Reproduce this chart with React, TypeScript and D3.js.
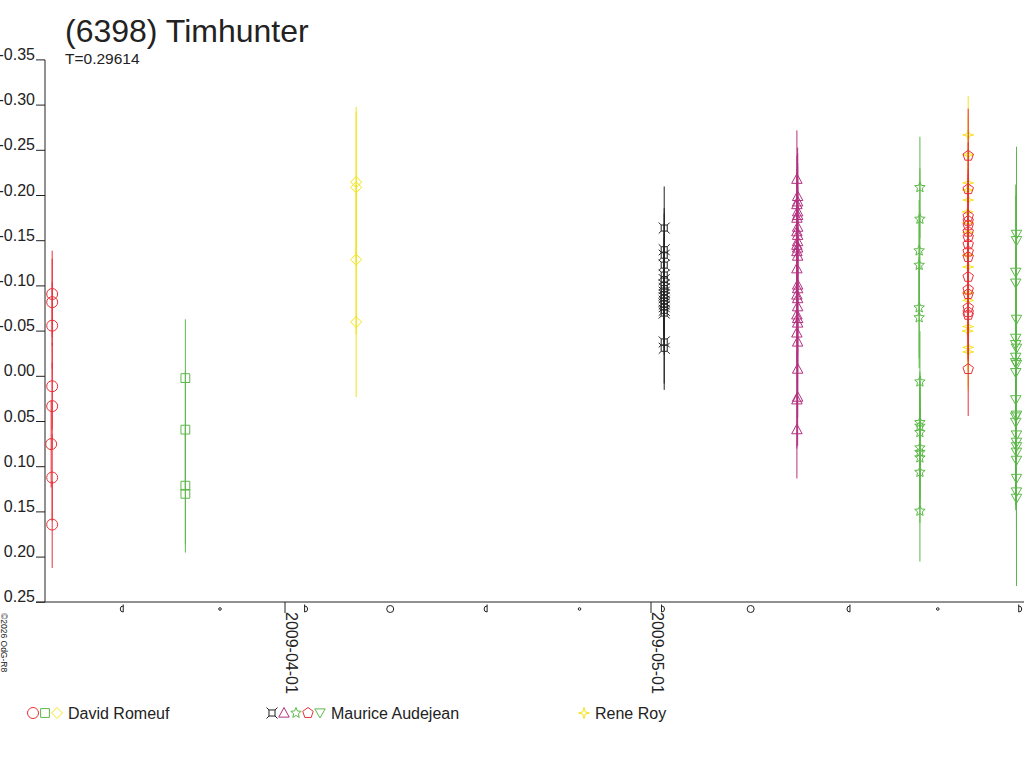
import * as d3 from 'd3';

const title = '(6398) Timhunter';
const period = 'T=0.29614';
const credit = '©2026 OdG-R8';

const yTicks = [-0.35, -0.3, -0.25, -0.2, -0.15, -0.1, -0.05, 0, 0.05, 0.1, 0.15, 0.2, 0.25];
const dateTicks = ['2009-04-01', '2009-05-01'];

// moon phases (UT): lq = last quarter, nm = new, fq = first quarter, fm = full
const moonPhases: [string, string][] = [
  ['2009-03-18T17:47Z', 'lq'], ['2009-03-26T16:06Z', 'nm'], ['2009-04-02T14:34Z', 'fq'],
  ['2009-04-09T14:56Z', 'fm'], ['2009-04-17T13:36Z', 'lq'], ['2009-04-25T03:23Z', 'nm'],
  ['2009-05-01T20:44Z', 'fq'], ['2009-05-09T04:01Z', 'fm'], ['2009-05-17T07:26Z', 'lq'],
  ['2009-05-24T12:11Z', 'nm'], ['2009-05-31T03:22Z', 'fq'],
];

// each point: [hours from session start, magnitude]
const romeufMar12: [number, number][] = [
  [0, -0.091], [0, -0.082], [0, -0.056], [0, 0.011], [0, 0.033], [-2, 0.075], [0, 0.112], [0, 0.164],
];
const romeufMar23: [number, number][] = [[0, 0.002], [0, 0.059], [0, 0.121], [0, 0.13]];
const romeufApr06: [number, number][] = [[0, -0.215], [0, -0.209], [0, -0.129], [0, -0.06]];
const audejeanMay02: [number, number][] = [
  [0, -0.164], [0, -0.14], [0, -0.134], [0, -0.123], [0, -0.112], [0, -0.107], [0, -0.101],
  [0, -0.097], [0, -0.093], [0, -0.09], [0, -0.087], [0, -0.083], [0, -0.08], [0, -0.077],
  [0, -0.073], [0, -0.07], [0, -0.038], [0, -0.031],
];
const audejeanMay12: [number, number][] = [
  [0, -0.218], [1.5, -0.199], [1.5, -0.193], [0, -0.19], [1.5, -0.182], [1.5, -0.178], [0, -0.175],
  [1.5, -0.165], [0, -0.16], [1.5, -0.156], [1.5, -0.149], [0, -0.145], [1.5, -0.142], [0, -0.138],
  [1.5, -0.133], [0, -0.119], [1.5, -0.101], [1.5, -0.097], [0, -0.09], [1.5, -0.086], [1.5, -0.077],
  [0, -0.068], [1.5, -0.064], [1.5, -0.059], [0, -0.048], [1.5, -0.038], [1.5, -0.008], [1.5, 0.023],
  [0, 0.026], [0, 0.059],
];
const audejeanMay23: [number, number][] = [
  [0, -0.209], [0, -0.174], [-1.5, -0.139], [-1.5, -0.123], [-1.5, -0.076], [-1.5, -0.065], [0, 0.006],
  [0, 0.051], [0, 0.055], [0, 0.062], [0, 0.079], [0, 0.084], [0, 0.09], [0, 0.106], [0, 0.149],
];
const royMay27: [number, number][] = [
  [0, -0.267], [0, -0.245], [0, -0.214], [-1, -0.206], [0, -0.195], [-1, -0.182], [0, -0.17],
  [0, -0.159], [-1, -0.134], [0, -0.121], [0, -0.092], [0, -0.084], [0, -0.055], [-1, -0.05],
  [0, -0.032], [0, -0.027],
];
const audejeanMay27: [number, number][] = [
  [0, -0.244], [0, -0.207], [0, -0.177], [0, -0.172], [0, -0.167], [0, -0.16], [0, -0.154],
  [0, -0.146], [0, -0.138], [0, -0.132], [0, -0.11], [0, -0.096], [0, -0.091], [0, -0.076],
  [0, -0.071], [0, -0.068], [0, -0.008],
];
const audejeanMay31: [number, number][] = [
  [0, -0.157], [0, -0.15], [-1.5, -0.115], [-1.5, -0.103], [0, -0.063], [-1.5, -0.042], [-1.5, -0.035],
  [0, -0.031], [-1.5, -0.021], [-1.5, -0.015], [0, -0.013], [-1.5, -0.004], [-1.5, 0.026], [0, 0.043],
  [-1.5, 0.045], [-1.5, 0.051], [0, 0.065], [0, 0.073], [0, 0.078], [0, 0.084], [0, 0.093],
  [0, 0.113], [0, 0.128], [0, 0.135],
];

const sessions = [
  { start: '2009-03-12T22:00Z', err: 0.048, color: '#ea3038', shape: 'circle', points: romeufMar12 },
  { start: '2009-03-23T20:00Z', err: 0.065, color: '#5cb848', shape: 'square', points: romeufMar23 },
  { start: '2009-04-06T20:00Z', err: 0.083, color: '#f2e41c', shape: 'diamond', points: romeufApr06 },
  { start: '2009-05-02T02:00Z', err: 0.046, color: '#222222', shape: 'currency', points: audejeanMay02 },
  { start: '2009-05-12T23:00Z', err: 0.054, color: '#b3317f', shape: 'triangle', points: audejeanMay12 },
  { start: '2009-05-23T01:00Z', err: 0.056, color: '#5cb848', shape: 'star', points: audejeanMay23 },
  { start: '2009-05-27T00:00Z', err: 0.043, color: '#f2e41c', shape: 'star4', points: royMay27 },
  { start: '2009-05-27T00:00Z', err: 0.052, color: '#ea3038', shape: 'pentagon', points: audejeanMay27 },
  { start: '2009-05-30T23:00Z', err: 0.097, color: '#5cb848', shape: 'triangleDown', points: audejeanMay31 },
];

const observers = ['David Romeuf', 'Maurice Audejean', 'Rene Roy'];
const observerShapes = [
  [['circle', '#ea3038'], ['square', '#5cb848'], ['diamond', '#f2e41c']],
  [['currency', '#222222'], ['triangle', '#b3317f'], ['star', '#5cb848'], ['pentagon', '#ea3038'], ['triangleDown', '#5cb848']],
  [['star4', '#f2e41c']],
];

const poly = (pts: [number, number][]) => ({
  draw(c: d3.Path, r: number) {
    pts.forEach(([px, py], i) => (i ? c.lineTo(px * r, py * r) : c.moveTo(px * r, py * r)));
    c.closePath();
  },
});
const starPts = (n: number, inner: number): [number, number][] =>
  d3.range(n * 2).map((i) => {
    const a = (Math.PI * i) / n - Math.PI / 2;
    const k = i % 2 ? inner : 1;
    return [Math.cos(a) * k, Math.sin(a) * k];
  });

const shapes: Record<string, { draw: (c: d3.Path, r: number) => void }> = {
  circle: { draw(c, r) { c.moveTo(r, 0); c.arc(0, 0, r, 0, 2 * Math.PI); } },
  square: { draw(c, r) { c.rect(-r * 0.8, -r * 0.8, r * 1.6, r * 1.6); } },
  diamond: poly([[0, -1], [1, 0], [0, 1], [-1, 0]]),
  triangle: poly([[0, -1], [0.95, 0.75], [-0.95, 0.75]]),
  triangleDown: poly([[0, 0.9], [0.95, -0.75], [-0.95, -0.75]]),
  star: poly(starPts(5, 0.45)),
  star4: poly(starPts(4, 0.3)),
  pentagon: poly(d3.range(5).map((i) => {
    const a = (2 * Math.PI * i) / 5 - Math.PI / 2;
    return [Math.cos(a), Math.sin(a)] as [number, number];
  })),
  currency: {
    draw(c, r) {
      const s = r * 0.55;
      c.rect(-s, -s, 2 * s, 2 * s);
      [[-1, -1], [1, -1], [1, 1], [-1, 1]].forEach(([dx, dy]) => {
        c.moveTo(dx * s, dy * s);
        c.lineTo(dx * r, dy * r);
      });
    },
  },
};

const symbolPath = (shape: string, r: number) => d3.symbol().type(shapes[shape] as any).size(r)() || '';

const moonPath = (phase: string) => {
  const p = d3.path();
  if (phase === 'fm') { p.moveTo(3.5, 0); p.arc(0, 0, 3.5, 0, 2 * Math.PI); }
  else if (phase === 'nm') { p.moveTo(1.3, 0); p.arc(0, 0, 1.3, 0, 2 * Math.PI); }
  else {
    const dir = phase === 'fq' ? 1 : -1;
    p.moveTo(0, -4.5);
    p.lineTo(0, 3);
    p.arc(0, 0, 3, Math.PI / 2, -Math.PI / 2, dir === 1);
  }
  return p.toString();
};

const font = '"Liberation Sans", Arial, sans-serif';

export default function App() {
  const width = 1024;
  const height = 768;
  const axisX = 45;
  const axisY = 602;

  const x = d3.scaleUtc()
    .domain([new Date('2009-04-01T00:00Z'), new Date('2009-05-01T00:00Z')])
    .range([285, 651]);
  const y = d3.scaleLinear().domain([-0.35, 0.25]).range([59.9, 602.3]);

  const at = (start: string, hours: number) => x(new Date(Date.parse(start) + hours * 36e5));

  return (
    <svg width={width} height={height} style={{ position: 'absolute', left: 0, top: 0, background: '#fff' }}
      fontFamily={font}>
      <text x={65} y={42} fontSize={32} fill="#222">{title}</text>
      <text x={65} y={64} fontSize={15.5} fill="#222">{period}</text>

      {/* y axis */}
      <line x1={axisX} x2={axisX} y1={y(-0.35)} y2={axisY} stroke="#222" />
      {yTicks.map((t) => (
        <g key={t}>
          <line x1={36} x2={axisX} y1={y(t)} y2={y(t)} stroke="#222" />
          <text x={35} y={y(t)} textAnchor="end" fontSize={16} fill="#222">{t.toFixed(2)}</text>
        </g>
      ))}

      {/* x axis */}
      <line x1={36} x2={width} y1={axisY} y2={axisY} stroke="#222" />
      {dateTicks.map((d) => {
        const px = x(new Date(d + 'T00:00Z'));
        return (
          <g key={d}>
            <line x1={px} x2={px} y1={axisY} y2={axisY + 11} stroke="#222" />
            <text transform={`translate(${px + 1},${axisY + 10}) rotate(90)`} fontSize={16} fill="#222">{d}</text>
          </g>
        );
      })}
      {moonPhases.map(([d, ph]) => (
        <path key={d} transform={`translate(${x(new Date(d))},${axisY + 7})`} d={moonPath(ph)}
          fill="none" stroke="#222" strokeWidth={1} />
      ))}
      <text transform={`translate(1,${axisY + 11}) rotate(90)`} fontSize={8.5} fill="#222">{credit}</text>

      {/* sessions */}
      {sessions.map((s, i) => (
        <g key={i}>
          {s.points.map(([h, v], j) => (
            <line key={j} x1={at(s.start, h)} x2={at(s.start, h)} y1={y(v - s.err)} y2={y(v + s.err)}
              stroke={s.color} strokeWidth={1} />
          ))}
          {s.points.map(([h, v], j) => (
            <path key={'p' + j} transform={`translate(${at(s.start, h)},${y(v)})`} d={symbolPath(s.shape, 5.5)}
              fill="none" stroke={s.color} strokeWidth={1} />
          ))}
        </g>
      ))}

      {/* legend */}
      {observers.map((name, i) => {
        const x0 = [28, 267, 579][i];
        const syms = observerShapes[i];
        const step = 12;
        return (
          <g key={name}>
            {syms.map(([shape, color], j) => (
              <path key={j} transform={`translate(${x0 + 5 + j * step},713)`} d={symbolPath(shape, 5.5)}
                fill="none" stroke={color} />
            ))}
            <text x={x0 + syms.length * step + 4} y={719} fontSize={16} fill="#222">{name}</text>
          </g>
        );
      })}
    </svg>
  );
}
